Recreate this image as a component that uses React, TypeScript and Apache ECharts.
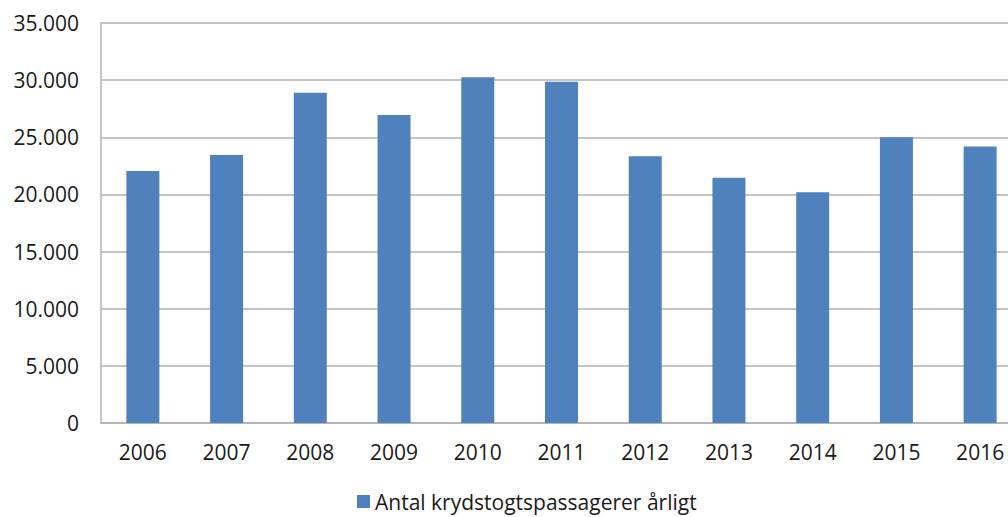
import React, { useEffect, useRef } from "react";
import * as echarts from "echarts";

const years = ["2006", "2007", "2008", "2009", "2010", "2011", "2012", "2013", "2014", "2015", "2016"];
const passengers = [22050, 23450, 28900, 26950, 30250, 29850, 23350, 21450, 20200, 25000, 24200];
const seriesName = "Antal krydstogtspassagerer årligt";

export default function App() {
  const ref = useRef<HTMLDivElement>(null);
  useEffect(() => {
    if (!ref.current) return;
    const chart = echarts.init(ref.current, undefined, { renderer: "svg" });
    const font = "'Open Sans', 'Liberation Sans', sans-serif";
    chart.setOption({
      animation: false,
      backgroundColor: "#ffffff",
      grid: { left: 101, right: 0, top: 23, bottom: 94, containLabel: false },
      legend: {
        data: [seriesName],
        left: 352,
        top: 486,
        itemWidth: 13,
        itemHeight: 13,
        itemGap: 7,
        icon: "rect",
        textStyle: { fontFamily: font, fontSize: 21, color: "#1a1a1a" },
      },
      xAxis: {
        type: "category",
        data: years,
        axisLine: { show: true, lineStyle: { color: "#b0b0b0", width: 1.5 } },
        axisTick: { show: false },
        axisLabel: { fontFamily: font, fontSize: 21, color: "#1a1a1a", margin: 18 },
      },
      yAxis: {
        type: "value",
        min: 0,
        max: 35000,
        interval: 5000,
        axisLine: { show: true, lineStyle: { color: "#b0b0b0", width: 1.5 } },
        axisTick: { show: false },
        splitLine: { lineStyle: { color: "#b0b0b0", width: 1.5 } },
        axisLabel: {
          fontFamily: font,
          fontSize: 21,
          color: "#1a1a1a",
          margin: 22,
          formatter: (v: number) => (v === 0 ? "0" : v.toLocaleString("de-DE")),
        },
      },
      series: [
        {
          name: seriesName,
          type: "bar",
          data: passengers,
          barWidth: 33,
          itemStyle: { color: "#4f81bd" },
        },
      ],
    });
    return () => chart.dispose();
  }, []);
  return (
    <div style={{ position: "fixed", left: 0, top: 0, width: 1008, height: 517, overflow: "hidden", background: "#fff" }}>
      <div ref={ref} style={{ position: "absolute", left: 0, top: 0, width: 1022, height: 517 }} />
    </div>
  );
}
